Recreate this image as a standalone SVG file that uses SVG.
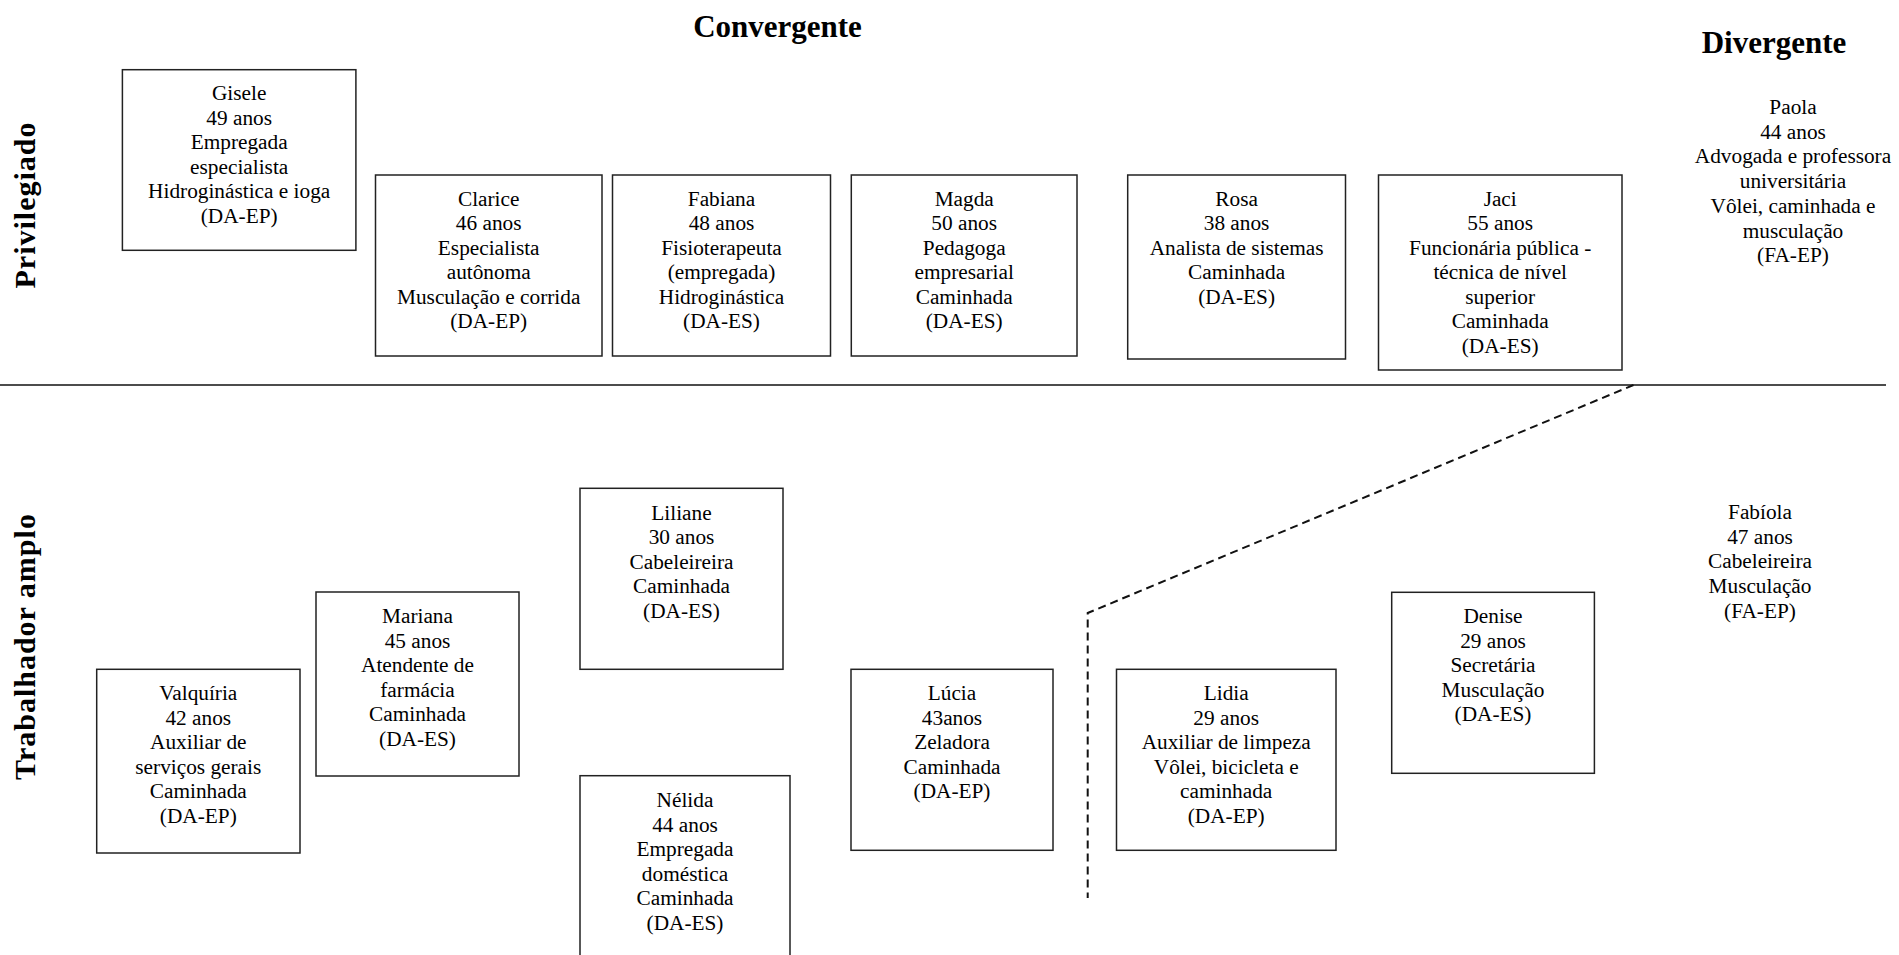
<svg xmlns="http://www.w3.org/2000/svg" width="1899" height="955" viewBox="0 0 1899 955">
<style>
.bg{fill:#ffffff}
.box{fill:#ffffff;stroke:#222222;stroke-width:1.5}
.t{font-family:"Liberation Serif","Times New Roman",serif;font-size:21.3px;fill:#000000;text-anchor:middle}
.h{font-family:"Liberation Serif","Times New Roman",serif;font-size:31px;font-weight:bold;fill:#000000;text-anchor:middle}
.v{font-family:"Liberation Serif","Times New Roman",serif;font-size:30px;font-weight:bold;fill:#000000;text-anchor:middle;letter-spacing:1px}
.sep{stroke:#111111;stroke-width:1.5;fill:none}
.dash{stroke:#111111;stroke-width:2;fill:none;stroke-dasharray:8 5}
</style>
<rect class="bg" x="0" y="0" width="1899" height="955"/>
<g id="headers">
<text class="h" x="777.5" y="37">Convergente</text>
<text class="h" x="1774" y="53">Divergente</text>
<text class="v" transform="translate(35,205) rotate(-90)">Privilegiado</text>
<text class="v" transform="translate(35,646.5) rotate(-90)">Trabalhador amplo</text>
</g>
<g id="connectors">
<line class="sep" x1="0" y1="385" x2="1886" y2="385"/>
<polyline class="dash" points="1633.5,385 1087.7,613 1087.7,898"/>
</g>
<g id="gisele">
<rect class="box" x="122.4" y="69.7" width="233.5" height="180.6"/>
<text class="t" x="239.2" y="100"><tspan x="239.2">Gisele</tspan><tspan x="239.2" dy="24.5">49 anos</tspan><tspan x="239.2" dy="24.5">Empregada</tspan><tspan x="239.2" dy="24.5">especialista</tspan><tspan x="239.2" dy="24.5">Hidroginástica e ioga</tspan><tspan x="239.2" dy="24.5">(DA-EP)</tspan></text>
</g>
<g id="clarice">
<rect class="box" x="375.5" y="175" width="226.5" height="181"/>
<text class="t" x="488.7" y="205.5"><tspan x="488.7">Clarice</tspan><tspan x="488.7" dy="24.5">46 anos</tspan><tspan x="488.7" dy="24.5">Especialista</tspan><tspan x="488.7" dy="24.5">autônoma</tspan><tspan x="488.7" dy="24.5">Musculação e corrida</tspan><tspan x="488.7" dy="24.5">(DA-EP)</tspan></text>
</g>
<g id="fabiana">
<rect class="box" x="612.5" y="175" width="218" height="181"/>
<text class="t" x="721.5" y="205.5"><tspan x="721.5">Fabiana</tspan><tspan x="721.5" dy="24.5">48 anos</tspan><tspan x="721.5" dy="24.5">Fisioterapeuta</tspan><tspan x="721.5" dy="24.5">(empregada)</tspan><tspan x="721.5" dy="24.5">Hidroginástica</tspan><tspan x="721.5" dy="24.5">(DA-ES)</tspan></text>
</g>
<g id="magda">
<rect class="box" x="851.3" y="175" width="225.7" height="181"/>
<text class="t" x="964.2" y="205.5"><tspan x="964.2">Magda</tspan><tspan x="964.2" dy="24.5">50 anos</tspan><tspan x="964.2" dy="24.5">Pedagoga</tspan><tspan x="964.2" dy="24.5">empresarial</tspan><tspan x="964.2" dy="24.5">Caminhada</tspan><tspan x="964.2" dy="24.5">(DA-ES)</tspan></text>
</g>
<g id="rosa">
<rect class="box" x="1127.7" y="175" width="217.8" height="184"/>
<text class="t" x="1236.6" y="205.5"><tspan x="1236.6">Rosa</tspan><tspan x="1236.6" dy="24.5">38 anos</tspan><tspan x="1236.6" dy="24.5">Analista de sistemas</tspan><tspan x="1236.6" dy="24.5">Caminhada</tspan><tspan x="1236.6" dy="24.5">(DA-ES)</tspan></text>
</g>
<g id="jaci">
<rect class="box" x="1378.5" y="175" width="243.5" height="195"/>
<text class="t" x="1500.2" y="205.5"><tspan x="1500.2">Jaci</tspan><tspan x="1500.2" dy="24.5">55 anos</tspan><tspan x="1500.2" dy="24.5">Funcionária pública -</tspan><tspan x="1500.2" dy="24.5">técnica de nível</tspan><tspan x="1500.2" dy="24.5">superior</tspan><tspan x="1500.2" dy="24.5">Caminhada</tspan><tspan x="1500.2" dy="24.5">(DA-ES)</tspan></text>
</g>
<g id="paola">
<text class="t" x="1793" y="114"><tspan x="1793">Paola</tspan><tspan x="1793" dy="24.7">44 anos</tspan><tspan x="1793" dy="24.7">Advogada e professora</tspan><tspan x="1793" dy="24.7">universitária</tspan><tspan x="1793" dy="24.7">Vôlei, caminhada e</tspan><tspan x="1793" dy="24.7">musculação</tspan><tspan x="1793" dy="24.7">(FA-EP)</tspan></text>
</g>
<g id="liliane">
<rect class="box" x="580" y="488.3" width="203" height="181"/>
<text class="t" x="681.5" y="519.5"><tspan x="681.5">Liliane</tspan><tspan x="681.5" dy="24.5">30 anos</tspan><tspan x="681.5" dy="24.5">Cabeleireira</tspan><tspan x="681.5" dy="24.5">Caminhada</tspan><tspan x="681.5" dy="24.5">(DA-ES)</tspan></text>
</g>
<g id="mariana">
<rect class="box" x="316" y="592" width="203" height="184"/>
<text class="t" x="417.5" y="623"><tspan x="417.5">Mariana</tspan><tspan x="417.5" dy="24.5">45 anos</tspan><tspan x="417.5" dy="24.5">Atendente de</tspan><tspan x="417.5" dy="24.5">farmácia</tspan><tspan x="417.5" dy="24.5">Caminhada</tspan><tspan x="417.5" dy="24.5">(DA-ES)</tspan></text>
</g>
<g id="valquiria">
<rect class="box" x="96.7" y="669.3" width="203.3" height="183.7"/>
<text class="t" x="198.3" y="700"><tspan x="198.3">Valquíria</tspan><tspan x="198.3" dy="24.5">42 anos</tspan><tspan x="198.3" dy="24.5">Auxiliar de</tspan><tspan x="198.3" dy="24.5">serviços gerais</tspan><tspan x="198.3" dy="24.5">Caminhada</tspan><tspan x="198.3" dy="24.5">(DA-EP)</tspan></text>
</g>
<g id="nelida">
<rect class="box" x="580" y="775.7" width="210" height="200"/>
<text class="t" x="685" y="807"><tspan x="685">Nélida</tspan><tspan x="685" dy="24.5">44 anos</tspan><tspan x="685" dy="24.5">Empregada</tspan><tspan x="685" dy="24.5">doméstica</tspan><tspan x="685" dy="24.5">Caminhada</tspan><tspan x="685" dy="24.5">(DA-ES)</tspan></text>
</g>
<g id="lucia">
<rect class="box" x="851" y="669.3" width="202" height="181"/>
<text class="t" x="952" y="700"><tspan x="952">Lúcia</tspan><tspan x="952" dy="24.5">43anos</tspan><tspan x="952" dy="24.5">Zeladora</tspan><tspan x="952" dy="24.5">Caminhada</tspan><tspan x="952" dy="24.5">(DA-EP)</tspan></text>
</g>
<g id="lidia">
<rect class="box" x="1116.5" y="669.3" width="219.5" height="181"/>
<text class="t" x="1226.2" y="700"><tspan x="1226.2">Lidia</tspan><tspan x="1226.2" dy="24.5">29 anos</tspan><tspan x="1226.2" dy="24.5">Auxiliar de limpeza</tspan><tspan x="1226.2" dy="24.5">Vôlei, bicicleta e</tspan><tspan x="1226.2" dy="24.5">caminhada</tspan><tspan x="1226.2" dy="24.5">(DA-EP)</tspan></text>
</g>
<g id="denise">
<rect class="box" x="1391.7" y="592.3" width="202.7" height="181"/>
<text class="t" x="1493" y="623"><tspan x="1493">Denise</tspan><tspan x="1493" dy="24.5">29 anos</tspan><tspan x="1493" dy="24.5">Secretária</tspan><tspan x="1493" dy="24.5">Musculação</tspan><tspan x="1493" dy="24.5">(DA-ES)</tspan></text>
</g>
<g id="fabiola">
<text class="t" x="1760" y="519"><tspan x="1760">Fabíola</tspan><tspan x="1760" dy="24.7">47 anos</tspan><tspan x="1760" dy="24.7">Cabeleireira</tspan><tspan x="1760" dy="24.7">Musculação</tspan><tspan x="1760" dy="24.7">(FA-EP)</tspan></text>
</g>
</svg>
